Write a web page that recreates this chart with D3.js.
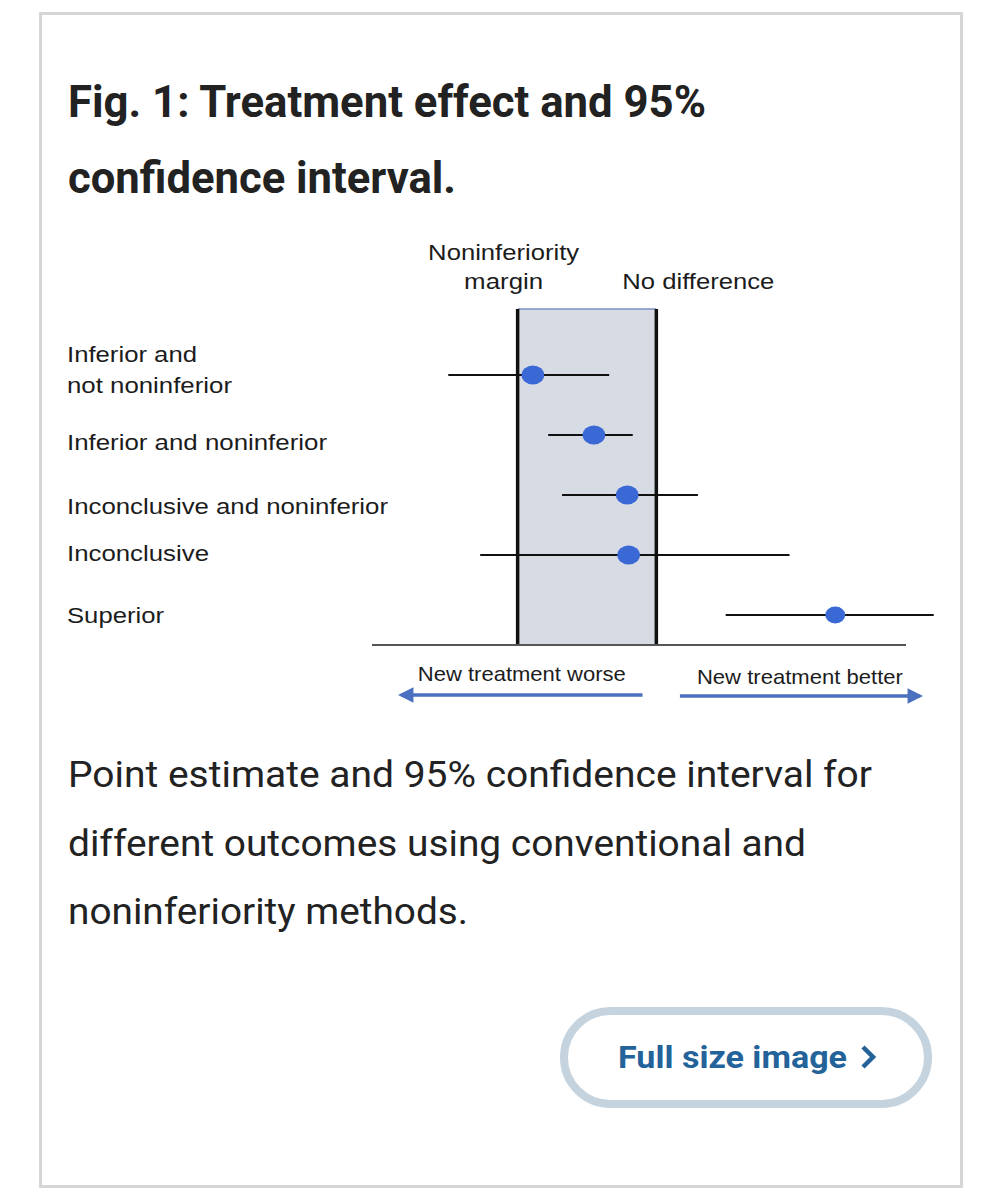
<!DOCTYPE html>
<html>
<head>
<meta charset="utf-8">
<script src="https://cdn.jsdelivr.net/npm/d3@7"></script>
<style>
  body { margin: 0; background: #fff; }
</style>
</head>
<body>
<div id="chart"></div>
<script>
// outcome rows, top to bottom
var outcomes = ["Inferior and\nnot noninferior", "Inferior and noninferior",
  "Inconclusive and noninferior", "Inconclusive", "Superior"];
// treatment effect (0 = no difference, -1 = noninferiority margin)
var estimates = [-0.89, -0.45, -0.21, -0.20, 1.29];
var lowers = [-1.50, -0.78, -0.68, -1.27, 0.50];
var uppers = [-0.34, -0.17, 0.30, 0.96, 2.00];
var marginValue = -1;
var noDiffValue = 0;

var titleLines = ["Fig. 1: Treatment effect and 95%", "confidence interval."];
var captionLines = ["Point estimate and 95% confidence interval for",
  "different outcomes using conventional and", "noninferiority methods."];

var rows = outcomes.map(function(d, i) {
  return { label: d, est: estimates[i], lo: lowers[i], hi: uppers[i] };
});

var W = 1002, H = 1200;
var svg = d3.select("#chart").append("svg")
  .attr("width", W)
  .attr("height", H);

// fit a text to a measured width
var fit = function(sel, w) {
  sel.attr("textLength", w).attr("lengthAdjust", "spacingAndGlyphs");
};

// card
svg.append("rect")
  .attr("x", 40.5).attr("y", 13.5)
  .attr("width", 921).attr("height", 1173)
  .style("fill", "#fff")
  .style("stroke", "#d6d6d6")
  .style("stroke-width", 3);

// title
var titleW = [638, 388];
titleLines.forEach(function(t, i) {
  svg.append("text")
    .attr("x", 68).attr("y", 117 + i * 76)
    .style("font-family", "Roboto, sans-serif")
    .style("font-weight", "bold")
    .style("font-size", "44px")
    .style("fill", "#222")
    .text(t)
    .call(fit, titleW[i]);
});

// chart
var plotTop = 309, plotBottom = 645;
var x = d3.scaleLinear().domain([-2.05, 1.8]).range([372, 906]);
var y = d3.scalePoint().domain(outcomes).range([375, 615]);

var chart = svg.append("g");
var labelFont = "'Liberation Sans', Arial, sans-serif";

chart.append("rect")
  .attr("x", x(marginValue))
  .attr("y", plotTop)
  .attr("width", x(noDiffValue) - x(marginValue))
  .attr("height", plotBottom - plotTop)
  .style("fill", "#d6dbe4");

chart.append("line")
  .attr("x1", x(marginValue)).attr("x2", x(noDiffValue))
  .attr("y1", plotTop).attr("y2", plotTop)
  .style("stroke", "#7d8fc4")
  .style("stroke-width", 1.5);

chart.selectAll(".ci")
  .data(rows)
  .enter().append("line")
  .attr("class", "ci")
  .attr("x1", function(d) { return x(d.lo); })
  .attr("x2", function(d) { return x(d.hi); })
  .attr("y1", function(d) { return y(d.label); })
  .attr("y2", function(d) { return y(d.label); })
  .style("stroke", "#111")
  .style("stroke-width", 2.2);

[marginValue, noDiffValue].forEach(function(v) {
  chart.append("line")
    .attr("x1", x(v)).attr("x2", x(v))
    .attr("y1", plotTop).attr("y2", plotBottom)
    .style("stroke", "#111")
    .style("stroke-width", 3.5);
});

chart.append("line")
  .attr("x1", x.range()[0]).attr("x2", x.range()[1])
  .attr("y1", plotBottom).attr("y2", plotBottom)
  .style("stroke", "#555")
  .style("stroke-width", 2);

chart.selectAll(".dot")
  .data(rows)
  .enter().append("ellipse")
  .attr("class", "dot")
  .attr("cx", function(d) { return x(d.est); })
  .attr("cy", function(d) { return y(d.label); })
  .attr("rx", function(d, i) { return i == 4 ? 10 : 11.3; })
  .attr("ry", function(d, i) { return i == 4 ? 8.5 : 9.6; })
  .style("fill", "#3a69d6");

// row labels (the drawing sets them a little off the lines)
var labelW = [[130, 165], [260], [321], [142], [97]];
var labelDy = [-13, 15, 19, 6, 8];
rows.forEach(function(d, i) {
  var parts = d.label.split("\n");
  var t = chart.append("text")
    .attr("x", 67)
    .attr("y", y(d.label) + labelDy[i])
    .style("font-family", labelFont)
    .style("font-size", "22px")
    .style("fill", "#1c1c1c");
  parts.forEach(function(p, j) {
    t.append("tspan")
      .attr("x", 67)
      .attr("dy", j == 0 ? 0 : 31)
      .text(p)
      .call(fit, labelW[i][j]);
  });
});

// reference line labels
var headers = [
  { text: "Noninferiority", cx: x(marginValue) - 14, y: 260, w: 151 },
  { text: "margin", cx: x(marginValue) - 14, y: 289, w: 79 },
  { text: "No difference", cx: x(noDiffValue) + 42, y: 289, w: 152 }
];
headers.forEach(function(h) {
  chart.append("text")
    .attr("x", h.cx).attr("y", h.y)
    .style("font-family", labelFont)
    .style("font-size", "22px")
    .style("fill", "#1c1c1c")
    .style("text-anchor", "middle")
    .text(h.text)
    .call(fit, h.w);
});

// direction arrows
var arrowColor = "#4a70bf";
var defs = svg.append("defs");
defs.append("marker")
  .attr("id", "head")
  .attr("viewBox", "0 0 10 10")
  .attr("refX", 8).attr("refY", 5)
  .attr("markerWidth", 5).attr("markerHeight", 4.4)
  .attr("markerUnits", "strokeWidth")
  .attr("orient", "auto")
  .append("path")
  .attr("d", "M0,0L10,5L0,10Z")
  .style("fill", arrowColor);

var arrows = [
  { text: "New treatment worse", from: -0.1, to: -1.84, ty: 681, ay: 695, w: 208 },
  { text: "New treatment better", from: 0.17, to: 1.9, ty: 684, ay: 696, w: 206 }
];
arrows.forEach(function(a) {
  chart.append("line")
    .attr("x1", x(a.from)).attr("x2", x(a.to))
    .attr("y1", a.ay).attr("y2", a.ay)
    .style("stroke", arrowColor)
    .style("stroke-width", 3.5)
    .attr("marker-end", "url(#head)");
  chart.append("text")
    .attr("x", (x(a.from) + x(a.to)) / 2)
    .attr("y", a.ty)
    .style("font-family", labelFont)
    .style("font-size", "21px")
    .style("fill", "#1c1c1c")
    .style("text-anchor", "middle")
    .text(a.text)
    .call(fit, a.w);
});

// caption
var captionW = [804, 738, 400];
captionLines.forEach(function(t, i) {
  svg.append("text")
    .attr("x", 68).attr("y", 787 + i * 68.5)
    .style("font-family", "Roboto, sans-serif")
    .style("font-size", "37px")
    .style("fill", "#222")
    .text(t)
    .call(fit, captionW[i]);
});

// button
svg.append("rect")
  .attr("x", 564).attr("y", 1011)
  .attr("width", 364).attr("height", 93)
  .attr("rx", 46.5)
  .style("fill", "#fff")
  .style("stroke", "#c5d3de")
  .style("stroke-width", 8);

svg.append("text")
  .attr("x", 618).attr("y", 1068)
  .style("font-family", "Roboto, sans-serif")
  .style("font-weight", "bold")
  .style("font-size", "32px")
  .style("fill", "#24639a")
  .text("Full size image")
  .call(fit, 229);

svg.append("path")
  .attr("d", "M863,1047L873,1057L863,1067")
  .style("fill", "none")
  .style("stroke", "#24639a")
  .style("stroke-width", 4.5);
</script>
</body>
</html>
